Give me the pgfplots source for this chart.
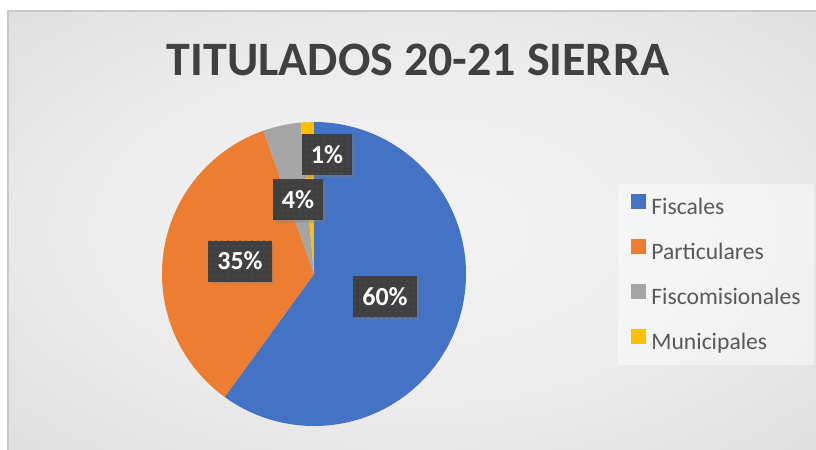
\documentclass[border=0pt]{standalone}
\usepackage{fontspec}
\setmainfont{Carlito}
\usepackage{pgfplots}
\pgfplotsset{compat=1.18}
\usetikzlibrary{shadows,patterns}
\definecolor{cFis}{HTML}{4472C4}
\definecolor{cPar}{HTML}{ED7D31}
\definecolor{cFcm}{HTML}{A5A5A5}
\definecolor{cMun}{HTML}{FFC000}
\definecolor{lblfill}{HTML}{404040}
\definecolor{lbldot}{HTML}{4E4E4E}
\definecolor{titlecol}{HTML}{404040}
\definecolor{legtext}{HTML}{595959}
\definecolor{bgA}{HTML}{F3F3F3}
\definecolor{bgB}{HTML}{EDEDED}
\definecolor{bgC}{HTML}{D4D4D4}
\definecolor{bgD}{HTML}{C2C2C2}
\definecolor{bordercol}{HTML}{C8C8C8}
\pgfdeclareradialshading{bgshade}{\pgfpoint{0bp}{0bp}}{color(0bp)=(bgA); color(18bp)=(bgB); color(50bp)=(bgC); color(72bp)=(bgD)}
\begin{document}
\begin{tikzpicture}
% data (percent shares)
\def\vFis{60.0}\def\vPar{34.6}\def\vFcm{4.0}\def\vMun{1.4}
\pgfmathsetmacro\tot{\vFis+\vPar+\vFcm+\vMun}
\pgfmathsetmacro\aA{90}
\pgfmathsetmacro\aB{\aA-360*(\vFis/\tot)}
\pgfmathsetmacro\aC{\aB-360*(\vPar/\tot)}
\pgfmathsetmacro\aD{\aC-360*(\vFcm/\tot)}
\pgfmathsetmacro\aE{\aD-360*(\vMun/\tot)}
\useasboundingbox (0pt,0pt) rectangle (408pt,-225pt);
\fill[white] (0pt,0pt) rectangle (408pt,-225pt);
\shade[shading=bgshade] (4pt,-5.5pt) rectangle (408pt,-225pt);
\draw[bordercol, line width=0.6pt] (4pt,-225pt) -- (4pt,-5.5pt) -- (408pt,-5.5pt);
\begin{axis}[
  at={(157pt,-137pt)}, anchor=center,
  x=76pt, y=76pt,
  xmin=-1, xmax=1, ymin=-1, ymax=1,
  hide axis, clip=false,
  title={TITULADOS 20-21 SIERRA},
  title style={at={(axis description cs:0.842,1.115)}, anchor=base, inner sep=0pt,
    font=\bfseries\fontsize{24}{24}\selectfont, text=titlecol},
  legend image code/.code={\fill[#1, fill opacity=1] (0pt,0.2pt) rectangle (7.2pt,7.4pt);},
  legend style={at={(axis description cs:1.5,0.796)}, anchor=north west,
    draw=none, fill=white, fill opacity=0.45, text opacity=1,
    inner xsep=6.5pt, inner ysep=5pt, row sep=9.6pt, column sep=2.8pt,
    nodes={inner sep=0pt, text height=8pt, text depth=3pt, text=legtext},
    font=\fontsize{11.8}{11.8}\selectfont},
  legend cell align=left,
  cells={anchor=base west},
]
\fill[cFis] (axis cs:0,0) -- (axis cs:{cos(\aA)},{sin(\aA)}) arc[start angle=\aA, end angle=\aB, radius=76pt] -- cycle;
\fill[cPar] (axis cs:0,0) -- (axis cs:{cos(\aB)},{sin(\aB)}) arc[start angle=\aB, end angle=\aC, radius=76pt] -- cycle;
\fill[cFcm] (axis cs:0,0) -- (axis cs:{cos(\aC)},{sin(\aC)}) arc[start angle=\aC, end angle=\aD, radius=76pt] -- cycle;
\fill[cMun] (axis cs:0,0) -- (axis cs:{cos(\aD)},{sin(\aD)}) arc[start angle=\aD, end angle=\aE, radius=76pt] -- cycle;
\addlegendimage{fill=cFis, draw=none}
\addlegendimage{fill=cPar, draw=none}
\addlegendimage{fill=cFcm, draw=none}
\addlegendimage{fill=cMun, draw=none}
\legend{Fiscales, Particulares, Fiscomisionales, Municipales}
\tikzset{lbl/.style={fill=lblfill, text=white, inner xsep=4.6pt, inner ysep=0pt,
  minimum height=20.5pt, font=\bfseries\fontsize{13}{13}\selectfont,
  drop shadow={shadow xshift=1.3pt, shadow yshift=-1.3pt, opacity=0.35},
  postaction={pattern=dots, pattern color=lbldot}}}
\node[lbl] at (axis cs:0.0855,0.783) {1\%};
\node[lbl] at (axis cs:-0.105,0.487) {4\%};
\node[lbl] at (axis cs:-0.487,0.0855) {35\%};
\node[lbl] at (axis cs:0.467,-0.151) {60\%};
\end{axis}
\end{tikzpicture}
\end{document}
